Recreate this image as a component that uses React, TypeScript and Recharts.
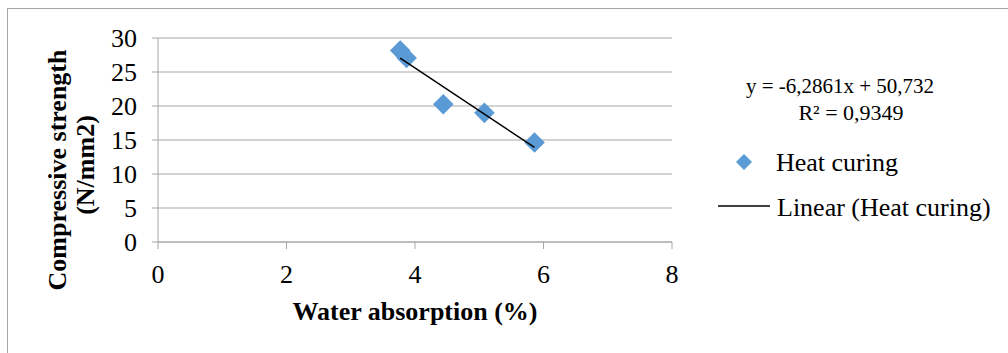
import React from 'react';
import { ScatterChart, Scatter, XAxis, YAxis, CartesianGrid } from 'recharts';

// values
const waterAbsorption = [3.77, 3.87, 4.44, 5.08, 5.86];
const compressiveStrength = [28.15, 27.06, 20.26, 18.99, 14.64];
const trendX = [3.77, 5.86];
const trendY = [27.03, 13.9];
const xTicks = [0, 2, 4, 6, 8];
const yTicks = [0, 5, 10, 15, 20, 25, 30];
const seriesName = 'Heat curing';
const trendName = 'Linear (Heat curing)';
const equationText = 'y = -6,2861x + 50,732';
const r2Text = 'R² = 0,9349';

const points = waterAbsorption.map((x, i) => ({ x, y: compressiveStrength[i] }));
const trend = trendX.map((x, i) => ({ x, y: trendY[i] }));

const FONT = '"Liberation Serif", "Times New Roman", serif';
const BLUE = '#5b9bd5';
const GRID = '#a6a6a6';

const Diamond = (props: any) => {
  const { cx, cy } = props;
  const r = 10.3;
  return <polygon points={`${cx},${cy - r} ${cx + r},${cy} ${cx},${cy + r} ${cx - r},${cy}`} fill={BLUE} />;
};

const YTitle = () => (
  <text transform="translate(66, 170) rotate(-90)" textAnchor="middle" fontFamily={FONT} fontWeight="bold" fontSize={26} fill="#000">
    <tspan x={0} y={0}>Compressive strength</tspan>
    <tspan x={5} y={28}>(N/mm2)</tspan>
  </text>
);

const XTitle = () => (
  <text x={415} y={320} textAnchor="middle" fontFamily={FONT} fontWeight="bold" fontSize={26} fill="#000">
    Water absorption (%)
  </text>
);

const tickStyle = { fontSize: 26, fontFamily: FONT, fill: '#000' };

const App: React.FC = () => {
  return (
    <div style={{ position: 'absolute', left: 0, top: 0, width: 1008, height: 353, background: '#fff' }}>
      <div style={{ position: 'absolute', left: 7, top: 8, width: 1001, height: 345, borderLeft: `1px solid ${GRID}`, borderTop: `1px solid ${GRID}` }} />
      <ScatterChart width={1008} height={353} margin={{ top: 38, right: 336, bottom: 81, left: 0 }}>
        <CartesianGrid vertical={false} stroke={GRID} />
        <XAxis type="number" dataKey="x" domain={[0, 8]} ticks={xTicks} interval={0} stroke={GRID} tickSize={7} tickMargin={16} tick={tickStyle} height={30} label={<XTitle />} />
        <YAxis type="number" dataKey="y" domain={[0, 30]} ticks={yTicks} interval={0} stroke={GRID} tickSize={6} tickMargin={15} tick={tickStyle} width={158} label={<YTitle />} />
        <Scatter name={seriesName} data={points} shape={<Diamond />} isAnimationActive={false} />
        <Scatter name={trendName} data={trend} line={{ stroke: '#000', strokeWidth: 1.5 }} shape={() => <g />} isAnimationActive={false} />
      </ScatterChart>
      <div style={{ fontFamily: FONT, fontSize: 26, color: '#000', whiteSpace: 'nowrap' }}>
        <div style={{ position: 'absolute', left: 690, top: 74, width: 300, fontSize: 21, lineHeight: '24px', textAlign: 'center' }}>{equationText}</div>
        <div style={{ position: 'absolute', left: 701, top: 101, width: 300, fontSize: 22, lineHeight: '24px', textAlign: 'center' }}>{r2Text}</div>
        <svg style={{ position: 'absolute', left: 736, top: 154 }} width={16} height={16}>
          <polygon points="8,0 16,8 8,16 0,8" fill={BLUE} />
        </svg>
        <div style={{ position: 'absolute', left: 776, top: 150, lineHeight: '26px' }}>{seriesName}</div>
        <svg style={{ position: 'absolute', left: 718, top: 205 }} width={52} height={2}>
          <line x1={0} y1={1} x2={52} y2={1} stroke="#000" strokeWidth={1.5} />
        </svg>
        <div style={{ position: 'absolute', left: 777, top: 195, lineHeight: '26px' }}>{trendName}</div>
      </div>
    </div>
  );
};

export default App;
